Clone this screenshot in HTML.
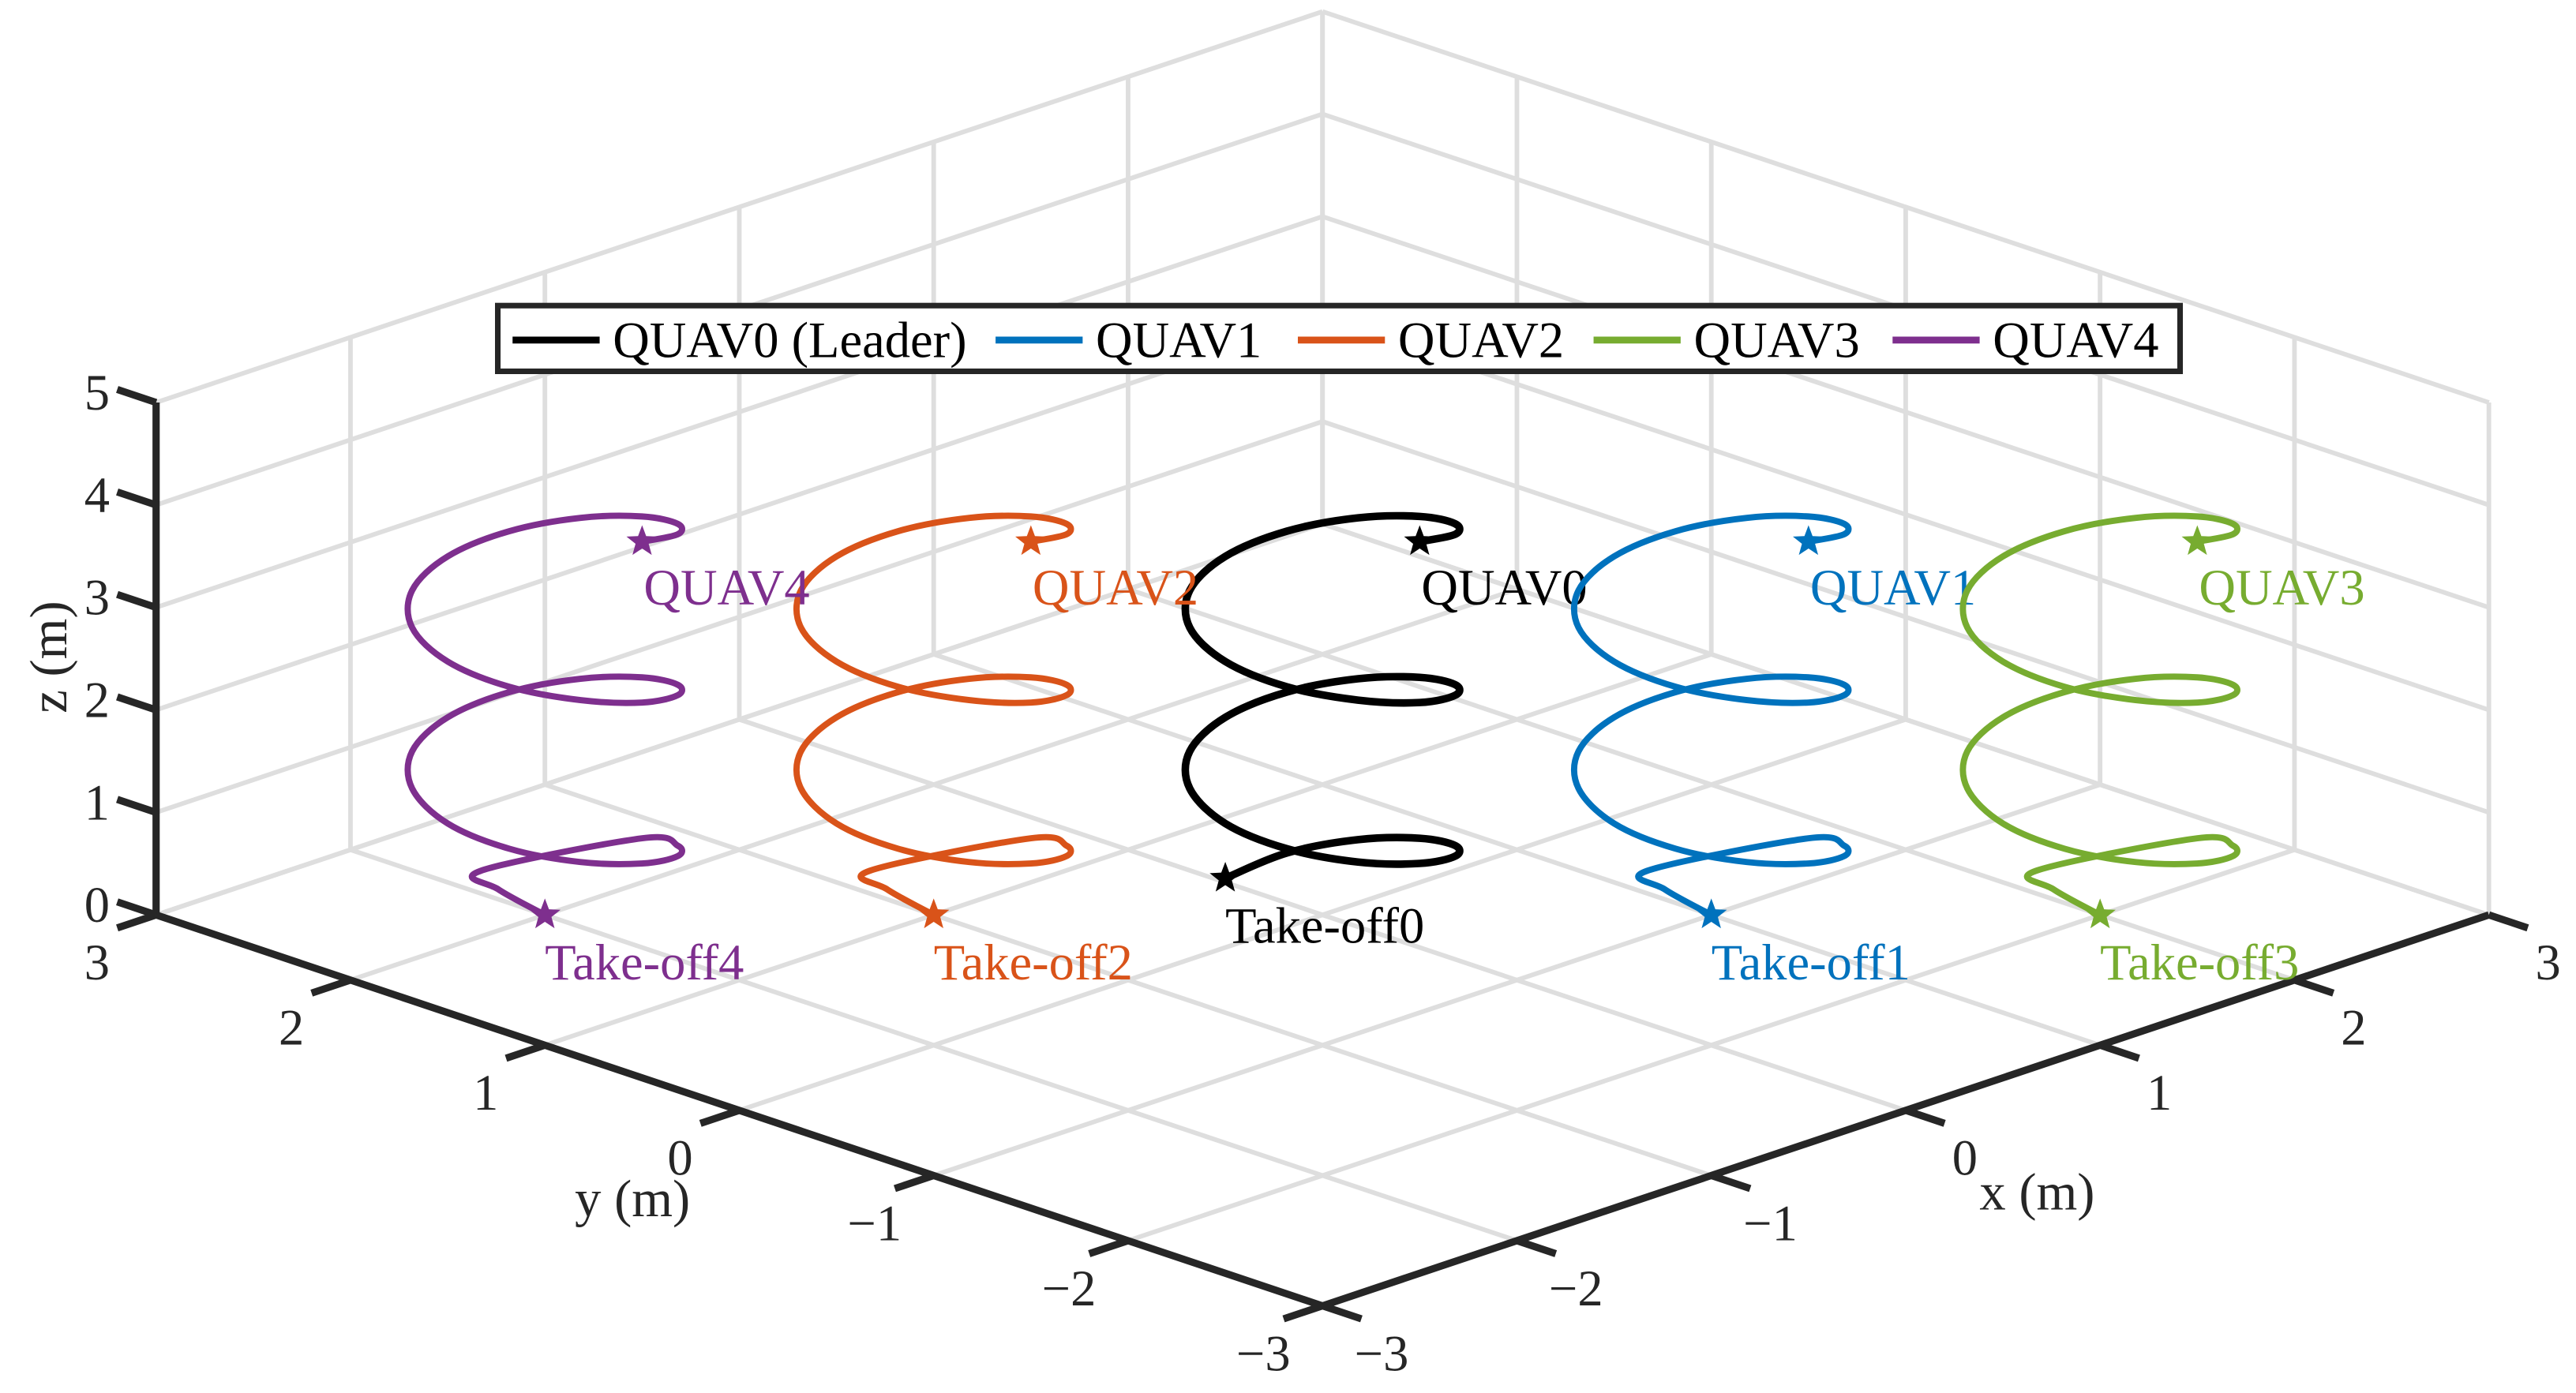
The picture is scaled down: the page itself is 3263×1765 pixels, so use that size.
<!DOCTYPE html>
<html><head><meta charset="utf-8"><style>
html,body{margin:0;padding:0;background:#fff}
svg{display:block}
text{font-family:"Liberation Serif",serif}
</style></head><body>
<svg id="chart" width="3263" height="1765" viewBox="0 0 1568 848" xmlns="http://www.w3.org/2000/svg">
<g id="grid"></g>
<g id="axes"></g>
<g id="series"></g>
<g id="legend"></g>
</svg>
<script>
// ---- data ----
const xTicks = [-3,-2,-1,0,1,2,3];
const yTicks = [-3,-2,-1,0,1,2,3];
const zTicks = [0,1,2,3,4,5];
const xTickLabels = ["\u22123","\u22122","\u22121","0","1","2","3"];
const yTickLabels = ["\u22123","\u22122","\u22121","0","1","2","3"];
const zTickLabels = ["0","1","2","3","4","5"];
// leader trajectory (relative to formation center)
const leaderX = [0,0.25,0.433,0.5,0.433,0.25,0,-0.25,-0.433,-0.5,-0.433,-0.25,0,0.25,0.433,0.5,0.433,0.25,0,-0.25,-0.433,-0.5,-0.433,-0.25,0,0.25,0.433,0.5,0.433,0.25,0];
const leaderY = [0.5,0.433,0.25,0,-0.25,-0.433,-0.5,-0.433,-0.25,0,0.25,0.433,0.5,0.433,0.25,0,-0.25,-0.433,-0.5,-0.433,-0.25,0,0.25,0.433,0.5,0.433,0.25,0,-0.25,-0.433,-0.5];
const leaderZ = [0.04,0.17,0.30,0.43,0.56,0.69,0.82,0.95,1.08,1.21,1.35,1.48,1.61,1.74,1.87,2.00,2.13,2.26,2.39,2.53,2.66,2.79,2.92,3.05,3.18,3.31,3.44,3.57,3.70,3.83,3.96];
// follower take-off segment (relative), then they join leader path from index 3
const followerStartX = [0,-0.12,-0.165];
const followerStartY = [0,0.12,0.165];
const followerStartZ = [0,0.25,0.43];
const agentNames = ["QUAV0","QUAV1","QUAV2","QUAV3","QUAV4"];
const agentOffsetX = [0,1,-1,2,-2];
const agentOffsetY = [0,-1,1,-2,2];
const agentColors = ["#000000","#0072BD","#D95319","#77AC30","#7E2F8E"];
const legendLabels = ["QUAV0 (Leader)","QUAV1","QUAV2","QUAV3","QUAV4"];

// ---- projection ----
const NS="http://www.w3.org/2000/svg";
function P(x,y,z){return [805+118.33*(x-y), 795-39.67*(x+3)-39.67*(y+3)-62.4*z];}
function mk(tag,attrs,parent){const e=document.createElementNS(NS,tag);for(const k in attrs)e.setAttribute(k,attrs[k]);parent.appendChild(e);return e;}
function line(a,b,stroke,w,parent){return mk('line',{x1:a[0],y1:a[1],x2:b[0],y2:b[1],stroke:stroke,'stroke-width':w,'stroke-linecap':'butt'},parent);}
const G=document.getElementById('grid'),A=document.getElementById('axes'),S=document.getElementById('series'),L=document.getElementById('legend');
const gc="#dedede",gw=2.8;
for(const x of xTicks){const e=line(P(x,-3,0),P(x,3,0),gc,gw,G);

}
for(const y of yTicks){const e=line(P(-3,y,0),P(3,y,0),gc,gw,G);

}
for(const x of xTicks){const e=line(P(x,3,0),P(x,3,5),gc,gw,G);

}
for(const z of zTicks){const e=line(P(-3,3,z),P(3,3,z),gc,gw,G);

}
for(const y of yTicks){const e=line(P(3,y,0),P(3,y,5),gc,gw,G);

}
for(const z of zTicks){const e=line(P(3,-3,z),P(3,3,z),gc,gw,G);

}
const ac="#262626",aw=4.4;
let e;
e=line(P(-3,3,0),P(-3,3,5),ac,aw,A);


e=line(P(-3,3,0),P(-3,-3,0),ac,aw,A);


e=line(P(-3,-3,0),P(3,-3,0),ac,aw,A);


function txt(s,pos,size,fill,anchor,parent){const t=mk('text',{x:pos[0],y:pos[1],'font-size':size,fill:fill,'text-anchor':anchor,'dominant-baseline':'central'},parent);t.textContent=s;return t;}
const FS=31;
yTicks.forEach((y,i)=>{e=line(P(-3,y,0),P(-3.2,y,0),ac,aw,A);


const p=P(-3,y,0);const t=txt(yTickLabels[i],[p[0]-36,p[1]+29],FS,ac,'middle',A);

});
xTicks.forEach((x,i)=>{e=line(P(x,-3,0),P(x,-3.2,0),ac,aw,A);


const p=P(x,-3,0);const t=txt(xTickLabels[i],[p[0]+36,p[1]+29],FS,ac,'middle',A);

});
zTicks.forEach((z,i)=>{e=line(P(-3,3,z),P(-3,3.2,z),ac,aw,A);


const p=P(-3,3,z);const t=txt(zTickLabels[i],[p[0]-36,p[1]-6],FS,ac,'middle',A);

});
let t=txt("y (m)",[385,730],32,ac,'middle',A);


t=txt("x (m)",[1240,726],32,ac,'middle',A);


t=mk('text',{x:0,y:0,'font-size':32,fill:ac,'text-anchor':'middle','dominant-baseline':'central',transform:'translate(30,400) rotate(-90)'},A);t.textContent="z (m)";



function smooth(pts){let d=`M${pts[0][0]},${pts[0][1]}`;for(let i=0;i<pts.length-1;i++){const p0=pts[Math.max(0,i-1)],p1=pts[i],p2=pts[i+1],p3=pts[Math.min(pts.length-1,i+2)];
d+=` C${p1[0]+(p2[0]-p0[0])/6},${p1[1]+(p2[1]-p0[1])/6} ${p2[0]-(p3[0]-p1[0])/6},${p2[1]-(p3[1]-p1[1])/6} ${p2[0]},${p2[1]}`;}return d;}
function star(c,r,fill,parent){let pts=[];for(let k=0;k<10;k++){const a=-Math.PI/2+k*Math.PI/5;const rr=k%2?r*0.42:r;pts.push((c[0]+rr*Math.cos(a)).toFixed(2)+','+(c[1]+rr*Math.sin(a)).toFixed(2));}return mk('polygon',{points:pts.join(' '),fill:fill},parent);}

agentNames.forEach((nm,i)=>{
  const ox=agentOffsetX[i],oy=agentOffsetY[i],col=agentColors[i];
  let pts=[];
  if(i===0){for(let k=0;k<leaderX.length;k++)pts.push(P(ox+leaderX[k],oy+leaderY[k],leaderZ[k]));}
  else{for(let k=0;k<followerStartX.length;k++)pts.push(P(ox+followerStartX[k],oy+followerStartY[k],followerStartZ[k]));
       for(let k=3;k<leaderX.length;k++)pts.push(P(ox+leaderX[k],oy+leaderY[k],leaderZ[k]));}
  const g=mk('g',{},S);
  
  
  const path=mk('path',{d:smooth(pts),fill:'none',stroke:col,'stroke-width':i===0?4.6:3.8,'stroke-linejoin':'round','stroke-linecap':'round'},g);
  
  
  const s0=star(pts[0],10,col,g);
  
  
  const s1=star(pts[pts.length-1],10,col,g);
  
  
  const a=pts[0],b=pts[pts.length-1];
  const lt=mk('text',{x:a[0],y:a[1]+29,'font-size':31,fill:col,'dominant-baseline':'central'},g);lt.textContent="Take-off"+nm.slice(4);
  
  
  const et=mk('text',{x:b[0]+1,y:b[1]+28,'font-size':31,fill:col,'dominant-baseline':'central'},g);et.textContent=nm;
  
  
});

const box=mk('rect',{x:303,y:186,width:1024,height:40,fill:'#fff',stroke:'#262626','stroke-width':3.4},L);


const lx=[312,606,790,970,1152];
legendLabels.forEach((lab,i)=>{
  const g=mk('g',{},L);
  
  
  line([lx[i],207],[lx[i]+53,207],agentColors[i],4.2,g);
  const tt=mk('text',{x:lx[i]+61,y:207,'font-size':31,fill:'#000','dominant-baseline':'central'},g);tt.textContent=lab;
});
</script>
</body></html>
